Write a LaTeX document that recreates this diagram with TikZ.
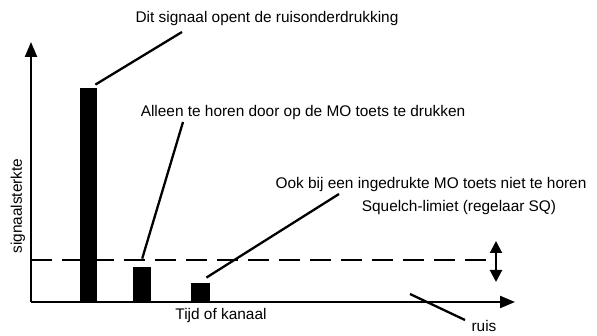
\documentclass[tikz,border=0pt]{standalone}
\usepackage{fontspec}
\setmainfont{Liberation Sans}
\usetikzlibrary{arrows.meta}

\begin{document}
\begin{tikzpicture}[x=1pt, y=1pt, >={Triangle[length=15pt, width=12pt]},
	every node/.style={font=\fontsize{15.4}{18}\selectfont, inner sep=0pt},
	bar/.style={fill=black, anchor=south west, minimum height=#1},
	leader/.style={line width=2.3pt}]
	\useasboundingbox (0,0) rectangle (597,336);
	% axes
	\coordinate (o) at (31,34);
	\coordinate (ytop) at (31,294);
	\coordinate (xend) at (515,34);
	\draw[->, line width=2.2pt] (o) -- (ytop);
	\draw[->, line width=2.2pt] (o) -- (xend);
	\node[rotate=90] (ylab) at (18,130) {signaalsterkte};
	\node (xlab) at (221,20) {Tijd of kanaal};
	% signal bars
	\node[bar=214pt, minimum width=17pt] (b1) at (80,34) {};
	\node[bar=35pt, minimum width=18pt] (b2) at (133,34) {};
	\node[bar=19pt, minimum width=19pt] (b3) at (191,34) {};
	% squelch level
	\coordinate (sqa) at (31,76); \coordinate (sqb) at (486,76);
	\draw[line width=2.2pt, dash pattern=on 21pt off 10pt] (sqa) -- (sqb);
	\coordinate (sqtop) at (496,95); \coordinate (sqbot) at (496,54);
	\draw[<->, line width=2pt, >={Triangle[length=12pt, width=12pt]}] (sqbot) -- (sqtop);
	% labels
	\node (t1) at (267,317) {Dit signaal opent de ruisonderdrukking};
	\node (t2) at (303,223) {Alleen te horen door op de MO toets te drukken};
	\node (t3) at (431,151) {Ook bij een ingedrukte MO toets niet te horen};
	\node (t4) at (459,128) {Squelch-limiet (regelaar SQ)};
	\node (t5) at (484,10) {ruis};
	\coordinate (e1) at (182,304); \coordinate (e2) at (183,214);
	\coordinate (e3) at (339,142); \coordinate (e4) at (410,42);
	\coordinate (e5) at (465,16);
	\draw[leader] (b1.north east) ++(-2,3) -- (e1);
	\draw[leader] (b2.north) ++(0,8) -- (e2);
	\draw[leader] (b3.north east) ++(-4,5) -- (e3);
	\draw[leader] (e4) -- (e5);
\end{tikzpicture}
\end{document}
